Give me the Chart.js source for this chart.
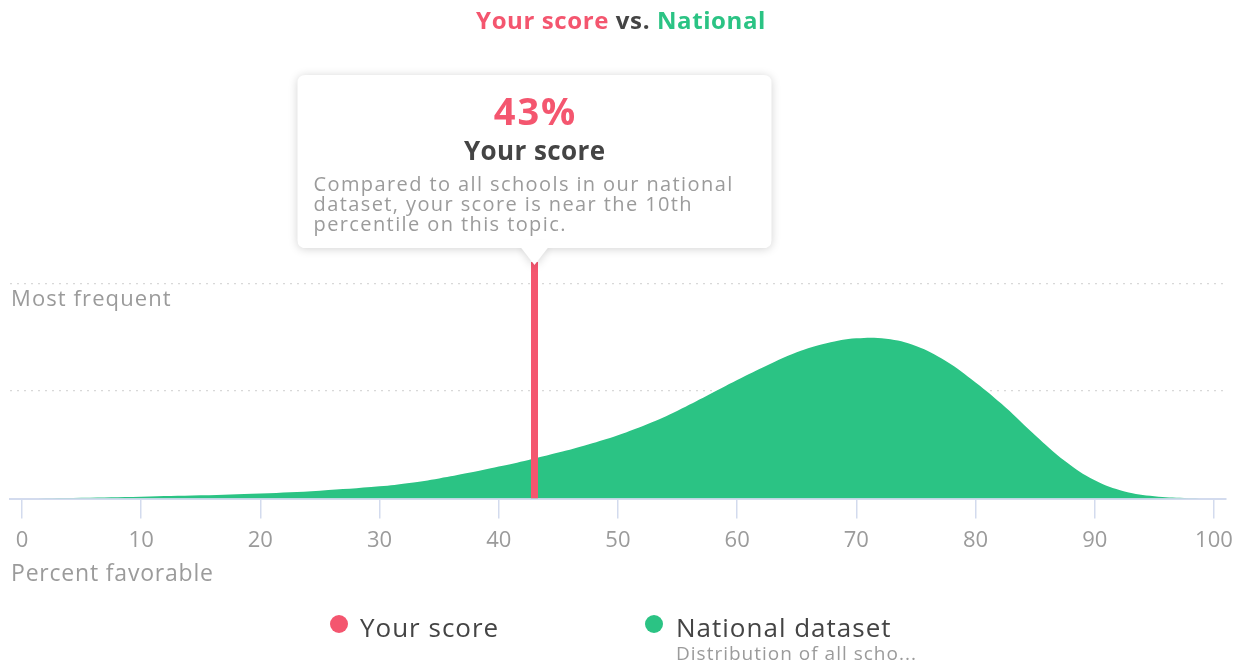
<!DOCTYPE html>
<html>
<head>
<meta charset="utf-8">
<script src="https://cdn.jsdelivr.net/npm/chart.js@4.4.1/dist/chart.umd.min.js"></script>
<style>
html,body{margin:0;padding:0;background:#fff;}
#wrap{width:1242px;height:664px;position:relative;}
</style>
</head>
<body>
<div id="wrap"><canvas id="c" width="1242" height="664"></canvas></div>
<script>
// ---- data ----
const percentValues = [0, 5, 10, 15, 20, 25, 30, 32.5, 35, 37.5, 40, 42.5, 45, 47.5, 50, 52.5, 55, 57.5, 60, 62.5, 65, 67.5, 70, 72.5, 75, 77.5, 80, 82.5, 85, 87.5, 90, 92.5, 95, 97.5, 100];
const nationalDensity = [0.0, 0.004, 0.009, 0.015, 0.024, 0.037, 0.057, 0.073, 0.094, 0.12, 0.149, 0.18, 0.214, 0.252, 0.295, 0.347, 0.409, 0.479, 0.551, 0.619, 0.68, 0.722, 0.745, 0.743, 0.71, 0.64, 0.54, 0.425, 0.295, 0.175, 0.085, 0.033, 0.011, 0.003, 0.0];
const yourScore = 43;
const xTickValues = [0, 10, 20, 30, 40, 50, 60, 70, 80, 90, 100];
const yGridValues = [0, 0.5, 1];
const titleParts = ["Your score", " vs. ", "National"];
const calloutValue = "43%";
const calloutTitle = "Your score";
const calloutLines = ["Compared to all schools in our national", "dataset, your score is near the 10th", "percentile on this topic."];
const yAxisNote = "Most frequent";
const xAxisTitle = "Percent favorable";
const legendLabels = ["Your score", "National dataset"];
const legendSub = "Distribution of all scho...";

const PINK = '#f4566f';
const GREEN = '#2bc384';
const DARK = '#444444';
const GRAY = '#9b9b9b';
const FONT = '"Open Sans", sans-serif';

const nationalPoints = percentValues.map((v, i) => ({x: v, y: nationalDensity[i]}));
const scorePoints = [{x: yourScore, y: 0}, {x: yourScore, y: 1.1}];

function roundRect(ctx, x, y, w, h, r) {
  ctx.beginPath();
  ctx.moveTo(x + r, y);
  ctx.lineTo(x + w - r, y);
  ctx.quadraticCurveTo(x + w, y, x + w, y + r);
  ctx.lineTo(x + w, y + h - r);
  ctx.quadraticCurveTo(x + w, y + h, x + w - r, y + h);
  ctx.lineTo(x + r, y + h);
  ctx.quadraticCurveTo(x, y + h, x, y + h - r);
  ctx.lineTo(x, y + r);
  ctx.quadraticCurveTo(x, y, x + r, y);
  ctx.closePath();
}

function spaced(ctx, px) { ctx.letterSpacing = px + 'px'; }

const decor = {
  id: 'decor',
  afterDraw(chart) {
    const ctx = chart.ctx;
    const xs = chart.scales.x, ys = chart.scales.y;
    ctx.save();
    ctx.textBaseline = 'middle';
    // Title
    ctx.font = 'bold 24px ' + FONT;
    spaced(ctx, 0.6);
    const widths = titleParts.map(t => ctx.measureText(t).width);
    const total = widths.reduce((a, b) => a + b, 0);
    let tx = chart.width / 2 - total / 2;
    const tcols = [PINK, DARK, GREEN];
    titleParts.forEach((t, i) => {
      ctx.fillStyle = tcols[i];
      ctx.textAlign = 'left';
      ctx.fillText(t, tx, 22);
      tx += widths[i];
    });

    // y note
    ctx.font = '22px ' + FONT;
    spaced(ctx, 1.1);
    ctx.fillStyle = GRAY;
    ctx.textAlign = 'left';
    ctx.fillText(yAxisNote, 11, 300);

    // x axis title
    ctx.font = '23px ' + FONT;
    spaced(ctx, 0.8);
    ctx.fillText(xAxisTitle, 11, 574);

    // Callout
    const cx = xs.getPixelForValue(yourScore);
    const tipY = ys.getPixelForValue(1.1) + 3;
    const bw = 474, bx = cx - bw / 2, by = 75, bh = 173;
    ctx.save();
    ctx.shadowColor = 'rgba(0,0,0,0.18)';
    ctx.shadowBlur = 10;
    ctx.shadowOffsetY = 1;
    ctx.fillStyle = '#ffffff';
    roundRect(ctx, bx, by, bw, bh, 8);
    ctx.fill();
    ctx.beginPath();
    ctx.moveTo(cx - 14, by + bh - 1);
    ctx.lineTo(cx, tipY);
    ctx.lineTo(cx + 14, by + bh - 1);
    ctx.closePath();
    ctx.fill();
    ctx.restore();
    ctx.fillStyle = '#ffffff';
    ctx.fillRect(bx + 5, by + bh - 8, bw - 10, 8);

    ctx.textAlign = 'left';
    ctx.fillStyle = PINK;
    ctx.font = 'bold 38px ' + FONT;
    spaced(ctx, 2);
    let w = ctx.measureText(calloutValue).width - 2;
    ctx.fillText(calloutValue, cx - w / 2, 114);
    ctx.fillStyle = DARK;
    ctx.font = 'bold 26px ' + FONT;
    spaced(ctx, 0.4);
    w = ctx.measureText(calloutTitle).width - 0.4;
    ctx.fillText(calloutTitle, cx - w / 2, 153);
    ctx.fillStyle = GRAY;
    ctx.font = '20px ' + FONT;
    spaced(ctx, 1.4);
    calloutLines.forEach((l, i) => ctx.fillText(l, bx + 16, 185 + i * 20));

    // Legend
    ctx.fillStyle = PINK;
    ctx.beginPath(); ctx.arc(339, 624, 9, 0, Math.PI * 2); ctx.fill();
    ctx.fillStyle = GREEN;
    ctx.beginPath(); ctx.arc(654, 624, 9, 0, Math.PI * 2); ctx.fill();
    ctx.fillStyle = DARK;
    ctx.font = '26px ' + FONT;
    spaced(ctx, 1);
    ctx.fillText(legendLabels[0], 360, 630);
    ctx.fillText(legendLabels[1], 676, 630);
    ctx.fillStyle = GRAY;
    ctx.font = '19px ' + FONT;
    spaced(ctx, 1);
    ctx.fillText(legendSub, 676, 655);
    ctx.restore();
  }
};

new Chart(document.getElementById('c'), {
  type: 'line',
  data: {
    datasets: [
      {
        label: legendLabels[0],
        data: scorePoints,
        borderColor: PINK,
        borderWidth: 7,
        pointRadius: 0,
        fill: false,
        order: 0,
        borderCapStyle: 'butt'
      },
      {
        label: legendLabels[1],
        data: nationalPoints,
        borderWidth: 0,
        borderColor: GREEN,
        backgroundColor: GREEN,
        pointRadius: 0,
        fill: 'origin',
        tension: 0.4,
        order: 1
      }
    ]
  },
  options: {
    responsive: false,
    animation: false,
    devicePixelRatio: 1,
    layout: {padding: {top: 262, left: 10, right: 16, bottom: 101}},
    plugins: {legend: {display: false}, tooltip: {enabled: false}},
    scales: {
      x: {
        type: 'linear',
        min: -1,
        max: 101,
        afterBuildTicks: (s) => { s.ticks = xTickValues.map(v => ({value: v})); },
        grid: {drawOnChartArea: false, drawTicks: true, tickLength: 20, color: '#d3dbee', lineWidth: 1.5},
        border: {display: true, color: '#d3dbee', width: 2},
        ticks: {color: GRAY, font: {family: FONT, size: 22}, padding: 9, maxRotation: 0, autoSkip: false},
        title: {display: false}
      },
      y: {
        type: 'linear',
        min: 0,
        max: 1.1,
        afterBuildTicks: (s) => { s.ticks = yGridValues.map(v => ({value: v})); },
        ticks: {display: false},
        grid: {drawTicks: false, color: (c) => c.tick && c.tick.value === 0 ? 'rgba(0,0,0,0)' : '#d8d8d8', lineWidth: 1.2},
        border: {display: false, dash: [2, 5]}
      }
    }
  },
  plugins: [decor]
});
</script>
</body>
</html>
